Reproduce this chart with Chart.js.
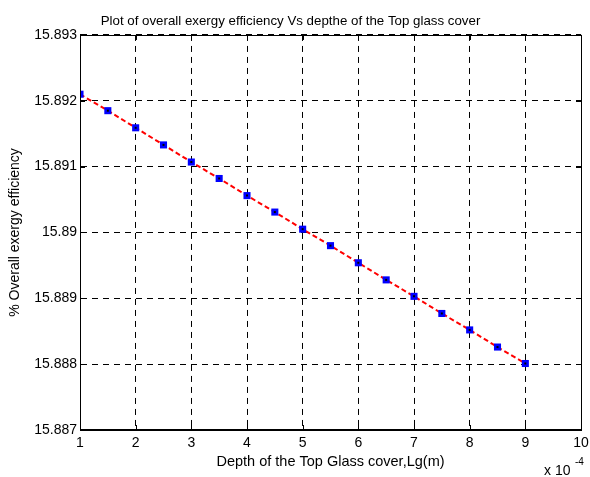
<!DOCTYPE html>
<html>
<head>
<meta charset="utf-8">
<script src="https://cdn.jsdelivr.net/npm/chart.js@4/dist/chart.umd.min.js"></script>
<style>
  html, body { margin: 0; padding: 0; background: #fff; }
  #wrap { width: 590px; height: 477px; }
</style>
</head>
<body>
<div id="wrap"><canvas id="c" width="590" height="477"></canvas></div>
<script>
// Glass cover depth (units of 1e-4 m)
const depths = [1, 1.5, 2, 2.5, 3, 3.5, 4, 4.5, 5, 5.5, 6, 6.5, 7, 7.5, 8, 8.5, 9];
// Overall exergy efficiency (%)
const efficiency = [15.89210, 15.89185, 15.89159, 15.89133, 15.89107, 15.89082, 15.89056,
  15.89031, 15.89005, 15.88980, 15.88954, 15.88928, 15.88903, 15.88877, 15.88852,
  15.88826, 15.88801];
const xTicks = [1, 2, 3, 4, 5, 6, 7, 8, 9, 10];
const yTicks = [15.887, 15.888, 15.889, 15.89, 15.891, 15.892, 15.893];

const titleText = 'Plot of overall exergy efficiency Vs depthe of the Top glass cover';
const xTitle = 'Depth of the Top Glass cover,Lg(m)';
const yTitle = '% Overall exergy efficiency';

const FONT = 'Liberation Sans, Arial, Helvetica, sans-serif';
const points = depths.map((d, i) => ({ x: d, y: efficiency[i] }));

// Box around the axes, inward tick marks and the exponent note
const boxPlugin = {
  id: 'matlabBox',
  afterDraw(chart) {
    const { ctx, chartArea: a, scales } = chart;
    ctx.save();
    ctx.strokeStyle = '#000';
    ctx.lineWidth = 1;
    ctx.setLineDash([]);
    ctx.strokeRect(Math.round(a.left) + 0.5, Math.round(a.top) + 0.5,
      Math.round(a.right - a.left), Math.round(a.bottom - a.top));
    const tl = 5;
    ctx.beginPath();
    xTicks.forEach(v => {
      const px = Math.round(scales.x.getPixelForValue(v)) + 0.5;
      ctx.moveTo(px, a.bottom); ctx.lineTo(px, a.bottom - tl);
      ctx.moveTo(px, a.top); ctx.lineTo(px, a.top + tl);
    });
    yTicks.forEach(v => {
      const py = Math.round(scales.y.getPixelForValue(v)) + 0.5;
      ctx.moveTo(a.left, py); ctx.lineTo(a.left + tl, py);
      ctx.moveTo(a.right, py); ctx.lineTo(a.right - tl, py);
    });
    ctx.stroke();
    ctx.fillStyle = '#000';
    ctx.textBaseline = 'alphabetic';
    ctx.textAlign = 'left';
    ctx.font = '14px ' + FONT;
    ctx.fillText('x 10', a.right - 37, a.bottom + 45);
    ctx.font = '10px ' + FONT;
    ctx.fillText('-4', a.right - 6, a.bottom + 35);
    ctx.restore();
  }
};

new Chart(document.getElementById('c'), {
  type: 'scatter',
  data: {
    datasets: [
      {
        data: points,
        order: 1,
        showLine: true,
        borderColor: '#ff0000',
        borderWidth: 2,
        borderDash: [5, 3],
        pointStyle: 'rect',
        pointRadius: 5,
        pointBackgroundColor: '#0000ff',
        pointBorderColor: '#0000ff',
        pointBorderWidth: 0,
        tension: 0
      },
      {
        data: points,
        order: 0,
        showLine: false,
        pointStyle: 'rect',
        pointRadius: 1.4,
        pointBackgroundColor: '#000',
        pointBorderColor: '#000',
        pointBorderWidth: 0
      }
    ]
  },
  options: {
    responsive: false,
    animation: false,
    events: [],
    layout: { padding: { left: 0, right: 9, top: 0, bottom: 0 } },
    plugins: {
      legend: { display: false },
      tooltip: { enabled: false },
      title: {
        display: true,
        text: titleText,
        color: '#000',
        font: { family: FONT, size: 13.3, weight: 'normal' },
        padding: { top: 13, bottom: 6 }
      }
    },
    scales: {
      x: {
        type: 'linear',
        min: 1, max: 10,
        afterFit(s) { s.height = 47; s.paddingLeft = 0; s.paddingRight = 0; },
        afterBuildTicks(s) { s.ticks = xTicks.map(v => ({ value: v })); },
        ticks: { color: '#000', padding: 5, font: { family: FONT, size: 14 }, maxRotation: 0 },
        grid: { color: '#000', drawTicks: false, lineWidth: 1 },
        border: { display: true, color: '#000', dash: [6, 5] },
        title: {
          display: true, text: xTitle, color: '#000',
          font: { family: FONT, size: 14.5 }, padding: { top: 0, bottom: 6.5 }
        }
      },
      y: {
        type: 'linear',
        min: 15.887, max: 15.893,
        afterFit(s) { s.width = 80; s.paddingTop = 0; s.paddingBottom = 0; },
        afterBuildTicks(s) { s.ticks = yTicks.map(v => ({ value: v })); },
        ticks: {
          color: '#000', padding: 3, font: { family: FONT, size: 14 },
          callback: v => String(parseFloat(Number(v).toFixed(3)))
        },
        grid: { color: '#000', drawTicks: false, lineWidth: 1 },
        border: { display: true, color: '#000', dash: [6, 5] },
        title: {
          display: true, text: yTitle, color: '#000',
          font: { family: FONT, size: 14 }, padding: { top: 6.6, bottom: 0 }
        }
      }
    }
  },
  plugins: [boxPlugin]
});
</script>
</body>
</html>
